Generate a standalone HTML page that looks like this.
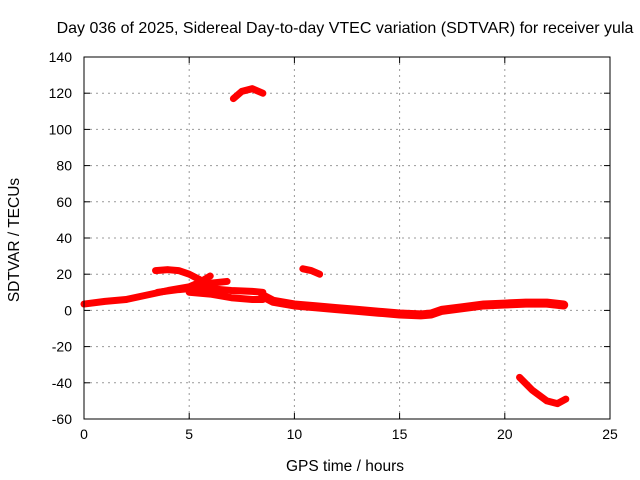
<!DOCTYPE html>
<html><head><meta charset="utf-8"><style>
body{margin:0;background:#fff}
svg{display:block}
text{font-family:"Liberation Sans",sans-serif;font-size:14px;fill:#000}
</style></head><body>
<svg id="chart" width="640" height="480" xmlns="http://www.w3.org/2000/svg">
<text x="345" y="33" text-anchor="middle" style="font-size:16px">Day 036 of 2025, Sidereal Day-to-day VTEC variation (SDTVAR) for receiver yula</text>
<text x="345" y="471" text-anchor="middle" style="font-size:15.5px">GPS time / hours</text>
<text transform="translate(19,240) rotate(-90)" text-anchor="middle" style="font-size:15.5px">SDTVAR / TECUs</text>
<g id="grid"></g><g id="data"></g>
<rect x="84" y="57" width="526" height="362" fill="none" stroke="#000" stroke-width="1"/>
</svg>
<script>
const xTicks=[0,5,10,15,20,25];
const yTicks=[-60,-40,-20,0,20,40,60,80,100,120,140];
const arcA=[[0,3.5],[1,5],[2,6],[3,8.5],[4,11],[5,13],[5.5,15.5],[6,19]];
const arcB=[[3.5,10],[4.5,11.5],[5,12],[6,12],[7,11],[8,10.5],[8.5,10]];
const arcC=[[5,10],[6,9],[7,7],[8,6],[8.5,6]];
const arcD=[[8.5,8],[9,5],[10,3],[11,2],[12,1],[13,0],[14,-1],[15,-2],[16,-2.5],[16.5,-2],[17,0],[18,1.5],[19,3],[20,3.5],[21,4],[22,4],[22.8,3]];
const arcE=[[3.4,22],[4,22.5],[4.5,22],[5,20],[5.5,17]];
const arcF=[[5.5,14],[6,15],[6.8,16]];
const arcG=[[10.4,23],[10.8,22],[11.2,20]];
const arcH=[[7.1,117],[7.5,121],[8,122.5],[8.5,120]];
const arcI=[[20.7,-37],[21.3,-44],[22,-50],[22.5,-51.5],[22.9,-49]];
const series=[arcA,arcB,arcC,arcD,arcE,arcF,arcG,arcH,arcI];
const X0=84,X1=610,Y0=419,Y1=57;
const sx=v=>X0+(v-0)/(25-0)*(X1-X0);
const sy=v=>Y0-(v+60)/(200)*(Y0-Y1);
const NS="http://www.w3.org/2000/svg";
const g=document.getElementById('grid'),d=document.getElementById('data');
function mk(tag,at,p){const e=document.createElementNS(NS,tag);for(const k in at)e.setAttribute(k,at[k]);p.appendChild(e);return e;}
xTicks.forEach(t=>{
 const x=sx(t);
 if(t>0&&t<25){const l=mk('line',{x1:x,x2:x,y1:Y1,y2:Y0,stroke:'#999','stroke-dasharray':'2,4'},g);
 
 }
 mk('line',{x1:x,x2:x,y1:Y0,y2:Y0-6,stroke:'#000'},g);
 mk('line',{x1:x,x2:x,y1:Y1,y2:Y1+6,stroke:'#000'},g);
 const tx=mk('text',{x:x,y:Y0+20,'text-anchor':'middle'},g);tx.textContent=t;
 
 
});
yTicks.forEach(t=>{
 const y=sy(t);
 if(t>-60&&t<140){const l=mk('line',{x1:X0,x2:X1,y1:y,y2:y,stroke:'#999','stroke-dasharray':'2,4'},g);
 
 }
 mk('line',{x1:X0,x2:X0+6,y1:y,y2:y,stroke:'#000'},g);
 mk('line',{x1:X1,x2:X1-6,y1:y,y2:y,stroke:'#000'},g);
 const tx=mk('text',{x:X0-12,y:y+5,'text-anchor':'end'},g);tx.textContent=t;
 
 
});
series.forEach((s,i)=>{
 const p=mk('polyline',{points:s.map(q=>sx(q[0])+','+sy(q[1])).join(' '),fill:'none',stroke:'#f00','stroke-width':i==3?9:7,'stroke-linejoin':'round','stroke-linecap':'round'},d);
 
 
});
</script>
</body></html>
